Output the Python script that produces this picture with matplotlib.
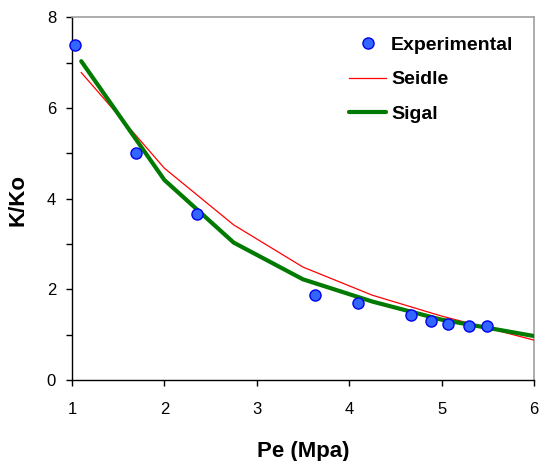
import matplotlib
matplotlib.use("Agg")
import matplotlib.pyplot as plt
from matplotlib.ticker import MultipleLocator

plt.rcParams['font.family'] = ['Liberation Sans', 'DejaVu Sans']

# Measured permeability ratio vs effective pressure
pe_exp = [1.03, 1.69, 2.35, 3.63, 4.10, 4.67, 4.89, 5.07, 5.30, 5.49]
k_exp = [7.38, 5.01, 3.66, 1.88, 1.69, 1.44, 1.29, 1.23, 1.19, 1.19]

# Model curves
pe_model = [1.1, 2.0, 2.75, 3.5, 4.25, 5.0, 6.0]
k_seidle = [6.78, 4.67, 3.42, 2.49, 1.87, 1.41, 0.88]
k_sigal = [7.03, 4.41, 3.03, 2.22, 1.73, 1.33, 0.97]

fig = plt.figure(figsize=(5.39, 4.61), dpi=100)
ax = fig.add_axes([0.1336, 0.1757, 0.857, 0.787])

ax.plot(pe_exp, k_exp, 'o', ms=8, mfc='#3366ff', mec='#0000ee', mew=1.0,
        label='Experimental', zorder=5, clip_on=False)
ax.plot(pe_model, k_seidle, '-', color='#ff0000', lw=0.9, label='Seidle', zorder=3)
ax.plot(pe_model, k_sigal, '-', color='#007a00', lw=3.0, label='Sigal', zorder=4,
        solid_capstyle='round')

ax.set_xlim(1, 6)
ax.set_ylim(0, 8)
ax.xaxis.set_major_locator(MultipleLocator(1))
ax.yaxis.set_major_locator(MultipleLocator(2))
ax.yaxis.set_minor_locator(MultipleLocator(1))
ax.tick_params(axis='both', which='both', direction='out', length=4.5, width=1,
               labelsize=12, colors='black')
ax.tick_params(axis='x', pad=11)
ax.tick_params(axis='y', pad=7)

for side in ('top', 'right'):
    ax.spines[side].set_color('#a0a0a0')
    ax.spines[side].set_linewidth(1.2)
for side in ('left', 'bottom'):
    ax.spines[side].set_color('black')
    ax.spines[side].set_linewidth(1.0)

ax.set_xlabel('Pe (Mpa)', fontsize=16, fontweight='bold')
ax.set_ylabel('K/Ko', fontsize=16, fontweight='bold')
ax.xaxis.label.set_va('center')
ax.yaxis.label.set_va('center')
ax.xaxis.set_label_coords(0.5, -0.198)
ax.yaxis.set_label_coords(-0.118, 0.495)

fs = 14
fs_px = fs * 100 / 72
ax.legend(loc='upper left', bbox_to_anchor=(349 / 539, 1 - 36 / 461),
          bbox_transform=fig.transFigure, frameon=False,
          prop={'weight': 'bold', 'size': fs}, handlelength=37 / fs_px,
          handletextpad=5 / fs_px, labelspacing=0.88, borderaxespad=0,
          borderpad=0)

fig.savefig('out.png', dpi=100)
